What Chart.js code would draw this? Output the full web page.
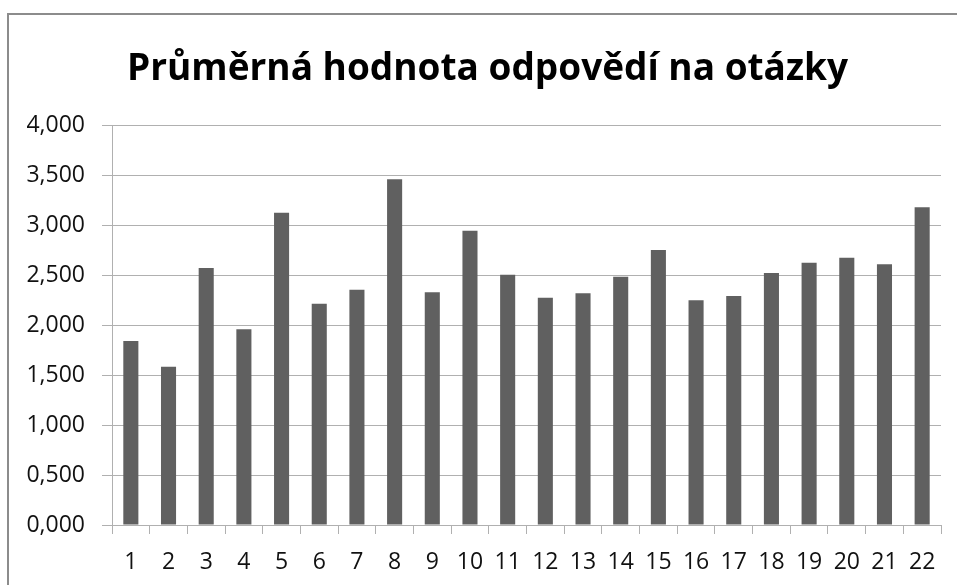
<!DOCTYPE html>
<html>
<head>
<meta charset="utf-8">
<script src="https://cdn.jsdelivr.net/npm/chart.js@4"></script>
<style>
  html, body { margin: 0; padding: 0; background: #fff; overflow: hidden; }
  #frame { position: absolute; left: 7px; top: 13px; width: 1000px; height: 1000px; border: 2px solid #8c8c8c; }
  #chart { position: absolute; left: 0; top: 0; }
</style>
</head>
<body>
<div id="frame"></div>
<canvas id="chart" width="957" height="585"></canvas>
<script>
// data
const questions = ["1","2","3","4","5","6","7","8","9","10","11","12","13","14","15","16","17","18","19","20","21","22"];
const averages = [1.84, 1.583, 2.57, 1.957, 3.123, 2.213, 2.353, 3.457, 2.327, 2.943, 2.503,
                  2.273, 2.317, 2.483, 2.75, 2.247, 2.29, 2.52, 2.623, 2.673, 2.607, 3.177];
const yTicks = [0, 0.5, 1, 1.5, 2, 2.5, 3, 3.5, 4];
const titleText = "Průměrná hodnota odpovědí na otázky";

const fmt = (v) => v.toFixed(3).replace(".", ",");
const gridGray = "#b0b0b0";
const tickFont = { family: "'Open Sans', sans-serif", size: 23 };

// title centred on the outer frame, not on the canvas
const frameTitle = {
  id: "frameTitle",
  afterDraw(chart) {
    const ctx = chart.ctx;
    ctx.save();
    ctx.font = "bold 37px 'Open Sans', sans-serif";
    ctx.fillStyle = "#000";
    ctx.textAlign = "center";
    ctx.textBaseline = "alphabetic";
    ctx.fillText(titleText, 487.5, 79.5);
    ctx.restore();
  },
};

new Chart(document.getElementById("chart"), {
  type: "bar",
  data: {
    labels: questions,
    datasets: [{
      data: averages,
      backgroundColor: "#606060",
      barPercentage: 0.4,
      categoryPercentage: 1,
    }],
  },
  options: {
    responsive: false,
    animation: false,
    layout: { padding: { left: 0, right: 16, top: 125, bottom: 0 } },
    plugins: {
      legend: { display: false },
      tooltip: { enabled: false },
      title: { display: false },
    },
    scales: {
      x: {
        grid: { drawOnChartArea: false, color: gridGray, tickLength: 9, offset: true },
        border: { color: gridGray },
        ticks: { color: "#111", font: tickFont, padding: 15, maxRotation: 0, autoSkip: false },
        afterFit: (s) => { s.height = 60; },
      },
      y: {
        min: 0,
        max: 4,
        afterBuildTicks: (s) => { s.ticks = yTicks.map((v) => ({ value: v })); },
        grid: { color: gridGray, tickLength: 10 },
        border: { color: gridGray },
        ticks: { color: "#111", font: tickFont, padding: 17, callback: (v) => fmt(v) },
        afterFit: (s) => { s.width = 112; },
      },
    },
  },
  plugins: [frameTitle],
});
</script>
</body>
</html>
